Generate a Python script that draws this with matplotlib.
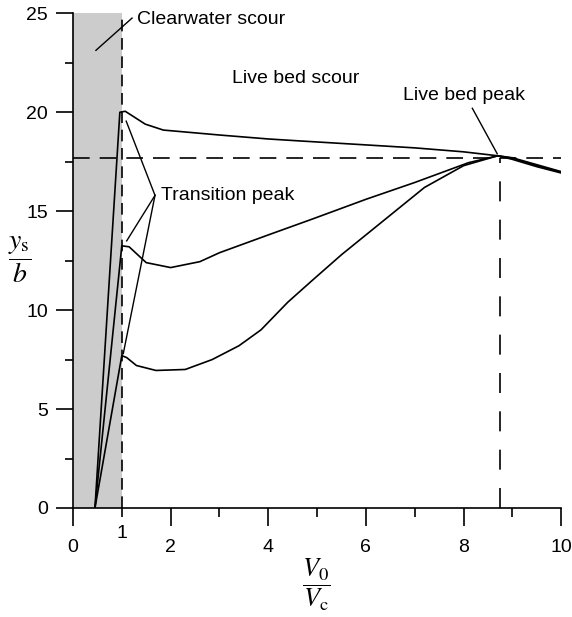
import matplotlib
matplotlib.use("Agg")
import matplotlib.pyplot as plt

plt.rcParams["font.family"] = ["Liberation Sans", "DejaVu Sans"]
plt.rcParams["mathtext.fontset"] = "stix"

# velocity ratio V0/Vc and scour depth ys/b
top_x = [0.45, 0.96, 1.07, 1.48, 1.85, 3.0, 4.0, 4.65, 6.0, 7.0, 8.0, 8.7, 9.0, 9.5, 10.0]
top_y = [0.0, 20.0, 20.05, 19.4, 19.1, 18.85, 18.65, 18.55, 18.35, 18.2, 18.0, 17.8, 17.7, 17.35, 17.0]

mid_x = [0.45, 1.0, 1.15, 1.5, 2.0, 2.6, 3.0, 4.0, 4.9, 6.0, 7.0, 8.1, 8.7, 9.0, 9.5, 10.0]
mid_y = [0.0, 13.25, 13.2, 12.4, 12.15, 12.45, 12.9, 13.8, 14.6, 15.6, 16.45, 17.45, 17.8, 17.68, 17.3, 16.97]

low_x = [0.45, 1.0, 1.1, 1.3, 1.7, 2.3, 2.85, 3.4, 3.85, 4.4, 4.9, 5.5, 6.3, 7.2, 8.0, 8.7, 9.0, 9.5, 10.0]
low_y = [0.0, 7.7, 7.6, 7.2, 6.95, 7.0, 7.5, 8.2, 9.0, 10.4, 11.5, 12.8, 14.4, 16.2, 17.3, 17.8, 17.62, 17.25, 16.93]

peak_x = 8.75
peak_y = 17.7
transition_x = 1.0

fig = plt.figure(figsize=(5.72, 6.17), dpi=100)
ax = fig.add_axes([0.1276, 0.1767, 0.8535, 0.8017])

ax.axvspan(0, transition_x, color="#cccccc", lw=0, zorder=0)
ax.plot([transition_x, transition_x], [0, 25], color="black", lw=1.2,
        dashes=(7, 4), zorder=2)
ax.plot([0, 10], [peak_y, peak_y], color="black", lw=1.2, dashes=(10, 6), zorder=2)
ax.plot([peak_x, peak_x], [0, peak_y], color="black", lw=1.2, dashes=(12, 11), zorder=2)

for xs, ys in ((top_x, top_y), (mid_x, mid_y), (low_x, low_y)):
    ax.plot(xs, ys, color="black", lw=1.2, zorder=3)

# annotations and leader lines
ax.text(1.31, 24.7, "Clearwater scour", fontsize=14, va="center", ha="left")
ax.plot([1.21, 0.47], [24.76, 23.13], color="black", lw=1.0)
ax.text(3.26, 21.7, "Live bed scour", fontsize=14, va="center", ha="left")
ax.text(6.76, 20.85, "Live bed peak", fontsize=14, va="center", ha="left")
ax.plot([8.18, 8.69], [20.2, 17.9], color="black", lw=1.0)
ax.text(1.8, 15.77, "Transition peak", fontsize=14, va="center", ha="left")
for tx, ty in ((1.09, 19.55), (1.10, 13.5), (1.03, 7.8)):
    ax.plot([1.68, tx], [15.8, ty], color="black", lw=1.0)

ax.set_xlim(0, 10)
ax.set_ylim(0, 25)
for side in ("top", "right"):
    ax.spines[side].set_visible(False)
ax.spines["left"].set_linewidth(1.2)
ax.spines["bottom"].set_linewidth(1.2)

ax.set_xticks([0, 2, 4, 6, 8, 10])
ax.set_xticks([1, 3, 5, 7, 9], minor=True)
ax.set_xticklabels(["0", "2", "4", "6", "8", "10"], fontsize=14)
ax.set_xticklabels(["1", "", "", "", ""], minor=True, fontsize=14)
ax.set_yticks([0, 5, 10, 15, 20, 25])
ax.set_yticks([2.5, 7.5, 12.5, 17.5, 22.5], minor=True)
ax.set_yticklabels(["0", "5", "10", "15", "20", "25"], fontsize=14)
ax.tick_params(axis="x", which="major", direction="out", length=13, width=1.2, pad=9)
ax.tick_params(axis="x", which="minor", direction="out", length=6.5, width=1.2, pad=6)
ax.tick_params(axis="y", which="major", direction="out", length=12, width=1.2, pad=6)
ax.tick_params(axis="y", which="minor", direction="out", length=6, width=1.2)

ax.set_xlabel(r"$\dfrac{V_0}{V_\mathrm{c}}$", fontsize=19, va="center")
ax.xaxis.set_label_coords(0.498, -0.156)
ax.set_ylabel(r"$\dfrac{y_\mathrm{s}}{b}$", fontsize=20, rotation=0, va="center", ha="center")
ax.yaxis.set_label_coords(-0.109, 0.503)

fig.savefig("out.png", dpi=100)
